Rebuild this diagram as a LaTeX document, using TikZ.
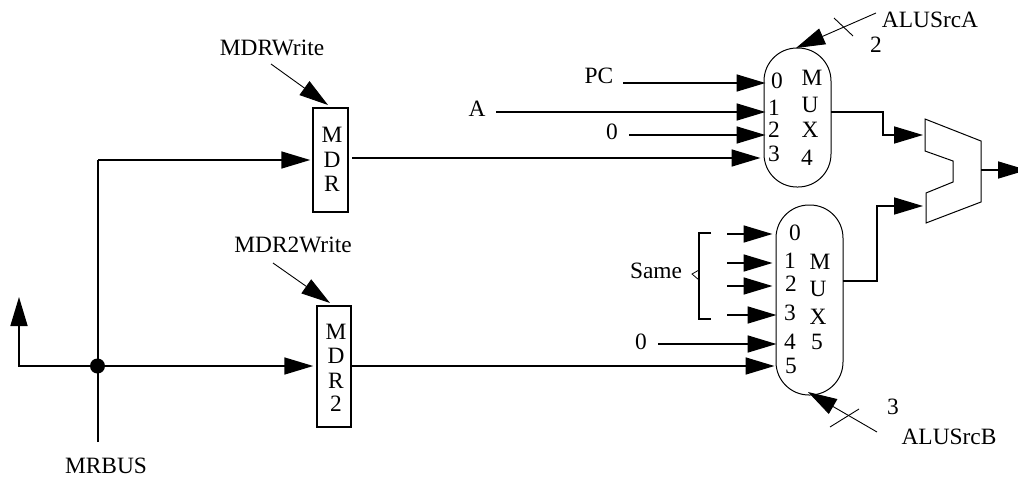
\documentclass[tikz,border=0pt]{standalone}
\usepackage{fontspec}
\setmainfont{Liberation Serif}
\usetikzlibrary{arrows.meta}
\tikzset{
  x=1pt,y=-1pt,
  lbl/.style={inner sep=0pt,text height=15.4pt,text depth=0pt,font=\fontsize{23.4}{26}\selectfont},
  wire/.style={line width=1.7pt,-{Triangle[length=29pt,width=17pt]}},
  plainwire/.style={line width=1.7pt},
  ctrl/.style={line width=0.9pt,-{Triangle[length=29pt,width=17pt]}},
  tick/.style={line width=0.9pt},
  regbox/.style={draw,line width=1.5pt,inner sep=0pt},
  muxbox/.style={draw,line width=1pt,inner sep=0pt,rounded corners=33pt,minimum width=67pt},
}
\begin{document}
\begin{tikzpicture}
\useasboundingbox (0,0) rectangle (1018,477);
\clip (0,0) rectangle (1018,477);
% registers
\node[regbox,minimum width=35pt,minimum height=104pt] (mdr) at (330.5,160) {};
\node[regbox,minimum width=34pt,minimum height=121pt] (mdrb) at (334,366.5) {};
\node[lbl] (mdrM) at (332,135) {M};
\node[lbl] (mdrD) at (332,160) {D};
\node[lbl] (mdrR) at (332,184) {R};
\node[lbl] (mdrbM) at (336,332) {M};
\node[lbl] (mdrbD) at (336,356) {D};
\node[lbl] (mdrbR) at (336,381) {R};
\node[lbl] (mdrbT) at (336,404) {2};
% multiplexers
\node[muxbox,minimum height=139pt] (mfour) at (797.5,117.5) {};
\node[muxbox,minimum height=190pt] (mfive) at (809.5,300) {};
\foreach \n/\t/\px/\py in {a/0/777/81,b/1/774/108,c/2/774/130,d/3/774/154,e/M/812/78,f/U/810/105,g/X/810/130,h/4/807/158}
  \node[lbl] (mf\n) at (\px,\py) {\t};
\foreach \n/\t/\px/\py in {a/0/795/233,b/1/790/261,c/2/791/284,d/3/790/313,e/4/790/342,f/5/791/366,g/M/820/262,h/U/818/289,i/X/818/317,j/5/817/342}
  \node[lbl] (mv\n) at (\px,\py) {\t};
% texts
\node[lbl] (tmdrw) at (272,48) {MDRWrite};
\node[lbl] (tmdrbw) at (293,245) {MDR2Write};
\node[lbl] (tmrbus) at (106,466) {MRBUS};
\node[lbl] (tpc) at (599,76) {PC};
\node[lbl] (ta) at (477,109) {A};
\node[lbl] (tz) at (612,132) {0};
\node[lbl] (tsame) at (656,271) {Same};
\node[lbl] (tzb) at (641,342) {0};
\node[lbl] (tsa) at (930,20) {ALUSrcA};
\node[lbl] (tsat) at (876,45) {2};
\node[lbl] (tsb) at (949,437) {ALUSrcB};
\node[lbl] (tsbt) at (893,407) {3};
% free ends
\coordinate (j) at (97.5,366);
\coordinate (busB) at (98,442);
\coordinate (busT) at (98,160);
\coordinate (upC) at (19,366);
\coordinate (upT) at (19,297);
\coordinate (mw) at (271,64);
\coordinate (mwT) at (328,105);
\coordinate (mbw) at (273,263);
\coordinate (mbwT) at (330,303);
\coordinate (pcS) at (623,83);
\coordinate (aS) at (496,112);
\coordinate (zS) at (629,135);
\coordinate (mdrO) at (352,158);
\coordinate (sa) at (727,234);
\coordinate (sb) at (727,263);
\coordinate (sc) at (727,286);
\coordinate (sd) at (727,315);
\coordinate (zbS) at (658,344);
\coordinate (fourO) at (831,112);
\coordinate (fourB) at (883,112);
\coordinate (fourA) at (883,135);
\coordinate (fiveO) at (843,281);
\coordinate (fiveB) at (877,281);
\coordinate (fiveA) at (877,206);
\coordinate (aluA) at (923,135);
\coordinate (aluB) at (923,206);
\coordinate (aluO) at (981,170);
\coordinate (aluE) at (1027,170);
\coordinate (csa) at (876,13);
\coordinate (csaT) at (796,48);
\coordinate (csb) at (877,432);
\coordinate (csbT) at (808,392);
% ALU
\draw[line width=1pt] (925,119) -- (981,141) -- (981,202) -- (926,223) -- (926,193) -- (953,182) -- (953,161) -- (925,151) -- cycle;
% bus
\draw[plainwire] (busB) -- (busT);
\draw[wire,shorten >=2pt,line join=miter] (busT) -- (busT -| mdr.west);
\draw[wire] (j) -- (upC) -- (upT);
\draw[wire,shorten >=3pt] (j) -- (j -| mdrb.west);
\fill (j) circle (7.5pt);
\node[inner sep=0pt] (jn) at (j) {};
% mux 4 inputs
\draw[wire,shorten >=-2pt] (pcS) -- (pcS -| mfour.west);
\draw[wire,shorten >=-2pt] (aS) -- (aS -| mfour.west);
\draw[wire,shorten >=-2pt] (zS) -- (zS -| mfour.west);
\draw[wire,shorten >=3pt] (mdrO) -- (mdrO -| mfour.west);
% mux 5 inputs
\draw[wire,shorten >=3pt] (sa) -- (sa -| mfive.west);
\draw[wire,shorten >=3pt] (sb) -- (sb -| mfive.west);
\draw[wire,shorten >=3pt] (sc) -- (sc -| mfive.west);
\draw[wire,shorten >=-1pt] (sd) -- (sd -| mfive.west);
\draw[wire,shorten >=-1pt] (zbS) -- (zbS -| mfive.west);
\draw[wire,shorten >=1pt] (mdrb.east |- 0,366) -- (mfive.west |- 0,366);
% outputs
\draw[wire] (fourO) -- (fourB) -- (fourA) -- (aluA);
\draw[wire] (fiveO) -- (fiveB) -- (fiveA) -- (aluB);
\draw[wire] (aluO) -- (aluE);
% control
\draw[ctrl] (mw) -- (mwT);
\draw[ctrl] (mbw) -- (mbwT);
\draw[ctrl] (csa) -- (csaT);
\draw[tick] (834,18) -- (853,36);
\draw[ctrl] (csb) -- (csbT);
\draw[tick] (830,427) -- (859,409);
% brace
\draw[line width=1.3pt] (711,233) -- (699,233) -- (699,319) -- (711,319);
\draw[line width=0.8pt] (699,270) -- (692,274) -- (699,280);
\end{tikzpicture}
\end{document}
